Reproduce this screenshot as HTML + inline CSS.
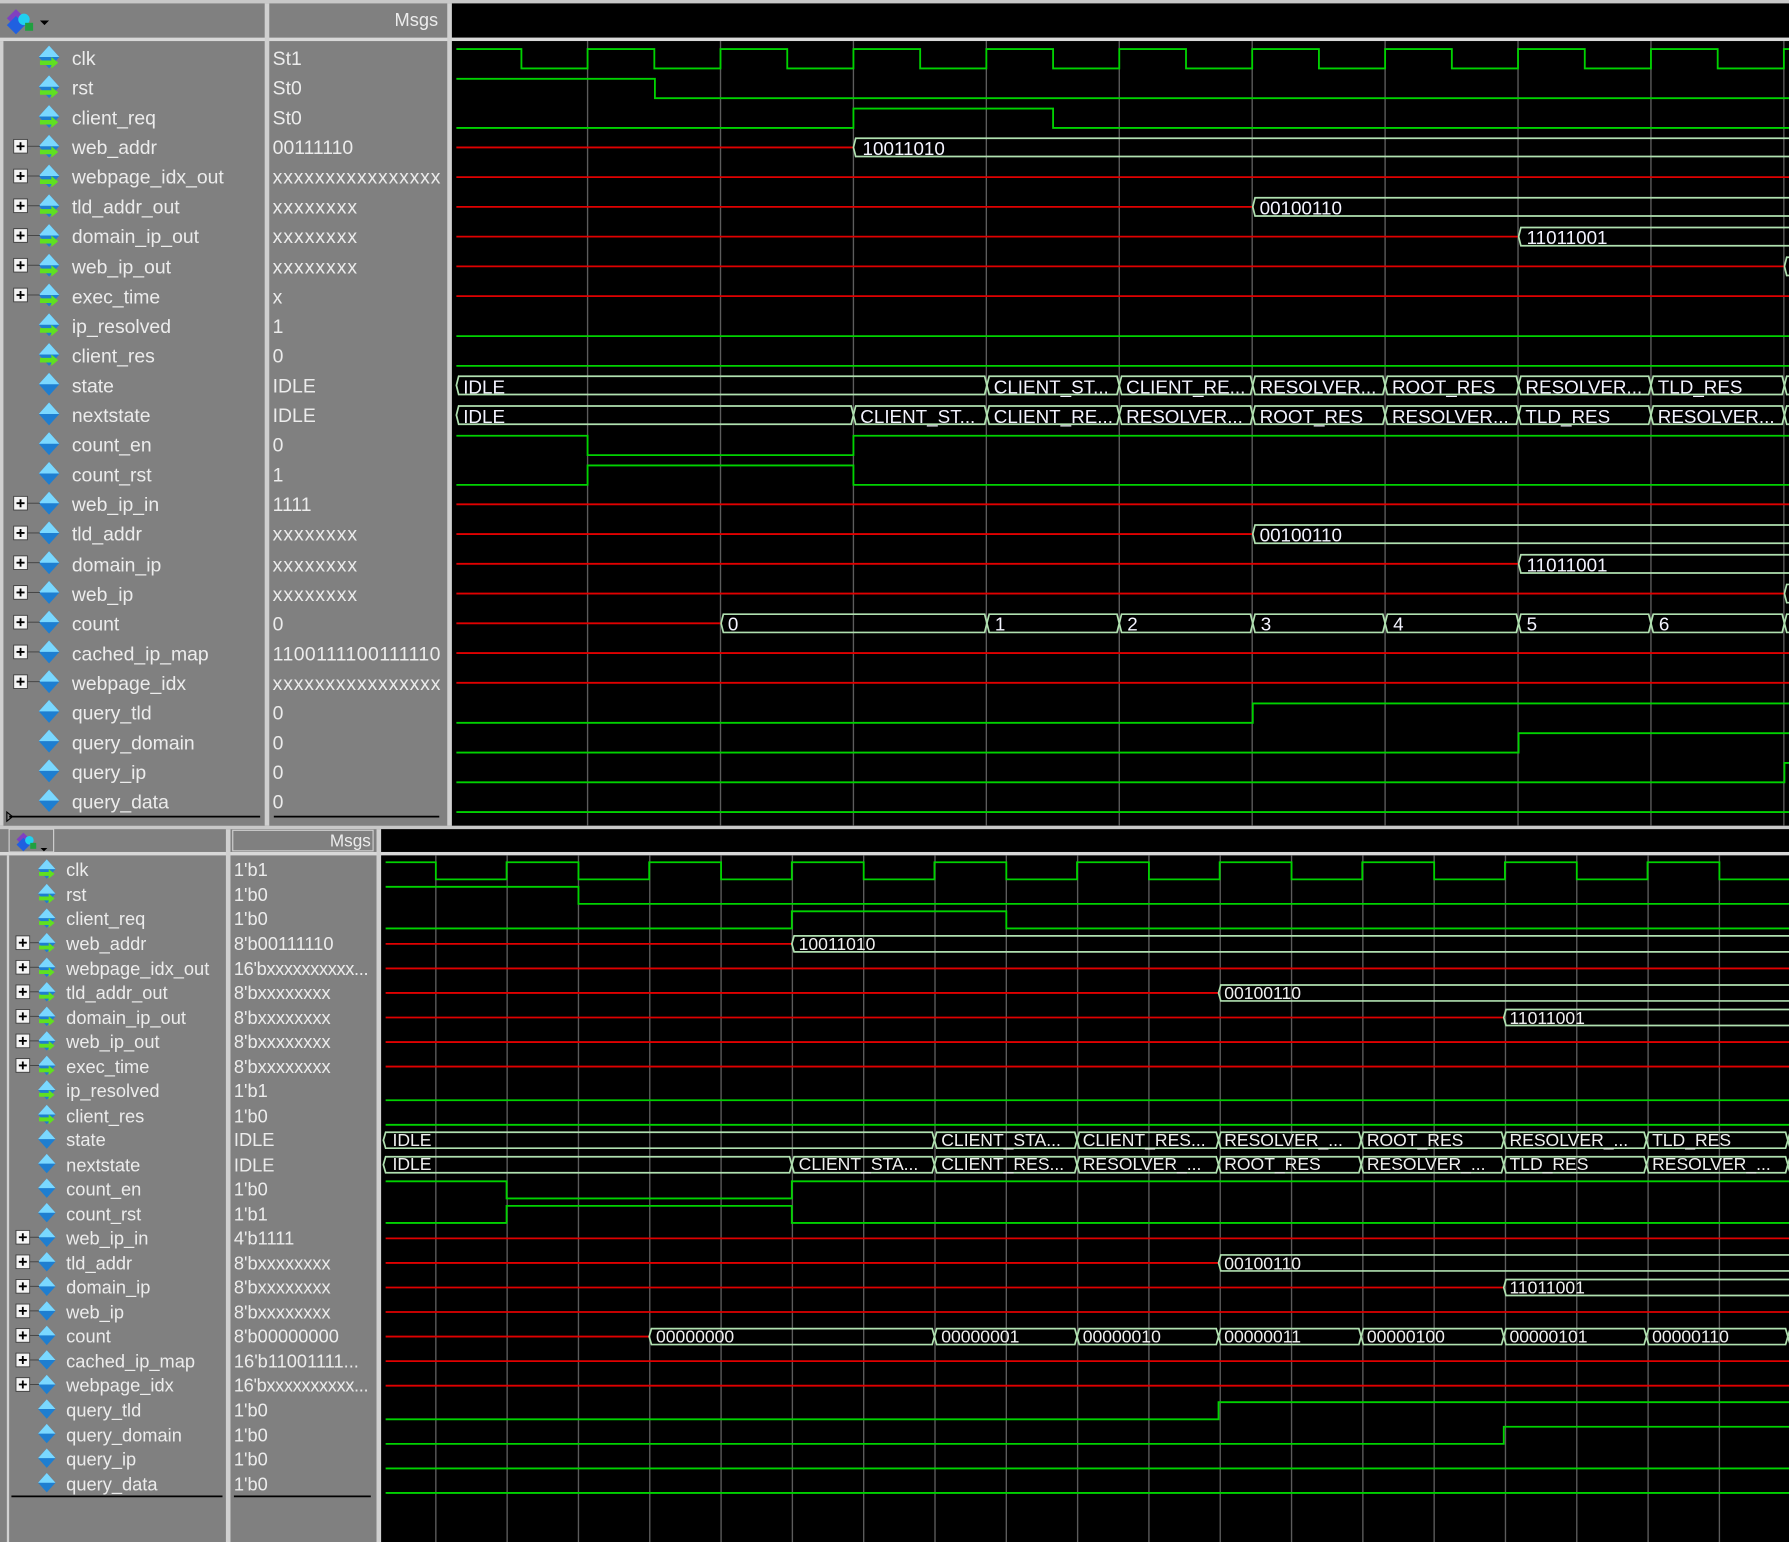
<!DOCTYPE html>
<html><head><meta charset="utf-8"><style>
html,body{margin:0;padding:0;background:#808080;}
svg{display:block}
text{font-family:"Liberation Sans",sans-serif;}
.n{fill:#ececec;font-size:17px}
.v{fill:#ececec;font-size:17px}
.n2{fill:#ececec;font-size:16px}
.v2{fill:#ececec;font-size:16px}
.b{fill:#f4f4ff;font-size:16.5px}
.b2{fill:#f0f0f0;font-size:15.4px}
</style></head><body>
<svg id="s" width="1789" height="1542" viewBox="0 0 1568 1352" preserveAspectRatio="none" xmlns="http://www.w3.org/2000/svg">
<rect x="0" y="0" width="1568" height="1352" fill="#808080"/>
<rect x="0" y="0" width="1568" height="3" fill="#c8c8c8"/>
<!-- top panel -->
<rect x="396" y="3" width="1172" height="30" fill="#000"/>
<rect x="0" y="33" width="1568" height="3" fill="#d8d8d8"/>
<rect x="396" y="36" width="1172" height="688" fill="#000"/>
<rect x="232" y="3" width="4" height="721" fill="#d0d0d0"/>
<rect x="392" y="3" width="4" height="721" fill="#d0d0d0"/>
<rect x="0" y="36" width="3" height="688" fill="#d0d0d0"/>
<text x="384" y="23" text-anchor="end" class="v" style="font-size:16px">Msgs</text>
<g transform="translate(4,8)"><polygon points="10,0 18,8 10,16 2,8" fill="#8040c0"/><polygon points="10,6 18,14 10,22 2,14" fill="#2060e0"/><circle cx="17" cy="9" r="5" fill="#20d0f0"/><rect x="18" y="12" width="7" height="7" fill="#20a040"/><polygon points="31,10 39,10 35,14" fill="#000"/></g>
<line x1="8" y1="716" x2="228" y2="716" stroke="#000" stroke-width="1.5"/>
<line x1="240" y1="716" x2="385" y2="716" stroke="#000" stroke-width="1.5"/>
<polygon points="6,712 11,716 6,720" fill="none" stroke="#000"/>
<!-- bottom panel -->
<rect x="0" y="724" width="1568" height="3" fill="#c8c8c8"/>
<rect x="334" y="727" width="1234" height="20" fill="#000"/>
<rect x="0" y="747" width="1568" height="3" fill="#d8d8d8"/>
<rect x="334" y="750" width="1234" height="602" fill="#000"/>
<rect x="198" y="727" width="4" height="625" fill="#d0d0d0"/>
<rect x="330" y="727" width="4" height="625" fill="#d0d0d0"/>
<rect x="6" y="750" width="2" height="602" fill="#d0d0d0"/>
<rect x="8" y="727" width="39" height="20" fill="none" stroke="#d0d0d0"/>
<rect x="204" y="728" width="123" height="18" fill="none" stroke="#d0d0d0"/>
<text x="325" y="742" text-anchor="end" class="v2" style="font-size:15px">Msgs</text>
<g transform="translate(13,730) scale(0.75)"><polygon points="10,0 18,8 10,16 2,8" fill="#8040c0"/><polygon points="10,6 18,14 10,22 2,14" fill="#2060e0"/><circle cx="17" cy="9" r="5" fill="#20d0f0"/><rect x="18" y="12" width="7" height="7" fill="#20a040"/><polygon points="30,18 38,18 34,22" fill="#000"/></g>
<line x1="10" y1="1312" x2="195" y2="1312" stroke="#000" stroke-width="1.5"/>
<line x1="205" y1="1312" x2="325" y2="1312" stroke="#000" stroke-width="1.5"/>
<g id="waves"></g>
<g id="icons"></g>
<!-- top names -->
<g class="n">
<text x="63" y="57">clk</text><text x="63" y="83">rst</text><text x="63" y="109">client_req</text><text x="63" y="135">web_addr</text><text x="63" y="161">webpage_idx_out</text><text x="63" y="187">tld_addr_out</text><text x="63" y="213">domain_ip_out</text><text x="63" y="240">web_ip_out</text><text x="63" y="266">exec_time</text><text x="63" y="292">ip_resolved</text><text x="63" y="318">client_res</text><text x="63" y="344">state</text><text x="63" y="370">nextstate</text><text x="63" y="396">count_en</text><text x="63" y="422">count_rst</text><text x="63" y="448">web_ip_in</text><text x="63" y="474">tld_addr</text><text x="63" y="501">domain_ip</text><text x="63" y="527">web_ip</text><text x="63" y="553">count</text><text x="63" y="579">cached_ip_map</text><text x="63" y="605">webpage_idx</text><text x="63" y="631">query_tld</text><text x="63" y="657">query_domain</text><text x="63" y="683">query_ip</text><text x="63" y="709">query_data</text>
</g>
<g class="v">
<text x="239" y="57">St1</text><text x="239" y="83">St0</text><text x="239" y="109">St0</text><text x="239" y="135">00111110</text><text x="239" y="161" textLength="147">xxxxxxxxxxxxxxxx</text><text x="239" y="187" textLength="74">xxxxxxxx</text><text x="239" y="213" textLength="74">xxxxxxxx</text><text x="239" y="240" textLength="74">xxxxxxxx</text><text x="239" y="266">x</text><text x="239" y="292">1</text><text x="239" y="318">0</text><text x="239" y="344">IDLE</text><text x="239" y="370">IDLE</text><text x="239" y="396">0</text><text x="239" y="422">1</text><text x="239" y="448">1111</text><text x="239" y="474" textLength="74">xxxxxxxx</text><text x="239" y="501" textLength="74">xxxxxxxx</text><text x="239" y="527" textLength="74">xxxxxxxx</text><text x="239" y="553">0</text><text x="239" y="579" textLength="147">1100111100111110</text><text x="239" y="605" textLength="147">xxxxxxxxxxxxxxxx</text><text x="239" y="631">0</text><text x="239" y="657">0</text><text x="239" y="683">0</text><text x="239" y="709">0</text>
</g>
<!-- bottom names -->
<g class="n2">
<text x="58" y="768">clk</text><text x="58" y="790">rst</text><text x="58" y="811">client_req</text><text x="58" y="833">web_addr</text><text x="58" y="855">webpage_idx_out</text><text x="58" y="876">tld_addr_out</text><text x="58" y="898">domain_ip_out</text><text x="58" y="919">web_ip_out</text><text x="58" y="941">exec_time</text><text x="58" y="962">ip_resolved</text><text x="58" y="984">client_res</text><text x="58" y="1005">state</text><text x="58" y="1027">nextstate</text><text x="58" y="1048">count_en</text><text x="58" y="1070">count_rst</text><text x="58" y="1091">web_ip_in</text><text x="58" y="1113">tld_addr</text><text x="58" y="1134">domain_ip</text><text x="58" y="1156">web_ip</text><text x="58" y="1177">count</text><text x="58" y="1199">cached_ip_map</text><text x="58" y="1220">webpage_idx</text><text x="58" y="1242">query_tld</text><text x="58" y="1264">query_domain</text><text x="58" y="1285">query_ip</text><text x="58" y="1307">query_data</text>
</g>
<g class="v2">
<text x="205" y="768">1'b1</text><text x="205" y="790">1'b0</text><text x="205" y="811">1'b0</text><text x="205" y="833">8'b00111110</text><text x="205" y="855" textLength="118">16'bxxxxxxxxxx...</text><text x="205" y="876">8'bxxxxxxxx</text><text x="205" y="898">8'bxxxxxxxx</text><text x="205" y="919">8'bxxxxxxxx</text><text x="205" y="941">8'bxxxxxxxx</text><text x="205" y="962">1'b1</text><text x="205" y="984">1'b0</text><text x="205" y="1005">IDLE</text><text x="205" y="1027">IDLE</text><text x="205" y="1048">1'b0</text><text x="205" y="1070">1'b1</text><text x="205" y="1091">4'b1111</text><text x="205" y="1113">8'bxxxxxxxx</text><text x="205" y="1134">8'bxxxxxxxx</text><text x="205" y="1156">8'bxxxxxxxx</text><text x="205" y="1177">8'b00000000</text><text x="205" y="1199">16'b11001111...</text><text x="205" y="1220" textLength="118">16'bxxxxxxxxxx...</text><text x="205" y="1242">1'b0</text><text x="205" y="1264">1'b0</text><text x="205" y="1285">1'b0</text><text x="205" y="1307">1'b0</text>
</g>
<!-- top bus labels -->
<g class="b">
<text x="756" y="136">10011010</text>
<text x="1104" y="188">00100110</text>
<text x="1338" y="214">11011001</text>
<text x="406" y="345">IDLE</text><text x="871" y="345">CLIENT_ST...</text><text x="987" y="345">CLIENT_RE...</text><text x="1104" y="345">RESOLVER...</text><text x="1220" y="345">ROOT_RES</text><text x="1337" y="345">RESOLVER...</text><text x="1453" y="345">TLD_RES</text>
<text x="406" y="371">IDLE</text><text x="754" y="371">CLIENT_ST...</text><text x="871" y="371">CLIENT_RE...</text><text x="987" y="371">RESOLVER...</text><text x="1104" y="371">ROOT_RES</text><text x="1220" y="371">RESOLVER...</text><text x="1337" y="371">TLD_RES</text><text x="1453" y="371">RESOLVER...</text>
<text x="1104" y="475">00100110</text>
<text x="1338" y="501">11011001</text>
<text x="638" y="553">0</text><text x="872" y="553">1</text><text x="988" y="553">2</text><text x="1105" y="553">3</text><text x="1221" y="553">4</text><text x="1338" y="553">5</text><text x="1454" y="553">6</text>
</g>
<g class="b2">
<text x="700" y="833">10011010</text>
<text x="1073" y="876">00100110</text>
<text x="1323" y="898">11011001</text>
<text x="344" y="1005">IDLE</text><text x="825" y="1005">CLIENT_STA...</text><text x="949" y="1005">CLIENT_RES...</text><text x="1073" y="1005">RESOLVER_...</text><text x="1198" y="1005">ROOT_RES</text><text x="1323" y="1005">RESOLVER_...</text><text x="1448" y="1005">TLD_RES</text>
<text x="344" y="1026">IDLE</text><text x="700" y="1026">CLIENT_STA...</text><text x="825" y="1026">CLIENT_RES...</text><text x="949" y="1026">RESOLVER_...</text><text x="1073" y="1026">ROOT_RES</text><text x="1198" y="1026">RESOLVER_...</text><text x="1323" y="1026">TLD_RES</text><text x="1448" y="1026">RESOLVER_...</text>
<text x="1073" y="1113">00100110</text>
<text x="1323" y="1134">11011001</text>
<text x="575" y="1177">00000000</text><text x="825" y="1177">00000001</text><text x="949" y="1177">00000010</text><text x="1073" y="1177">00000011</text><text x="1198" y="1177">00000100</text><text x="1323" y="1177">00000101</text><text x="1448" y="1177">00000110</text>
</g>
</svg>
<script>
(function(){
var NS="http://www.w3.org/2000/svg",W=document.getElementById("waves"),I=document.getElementById("icons");
function el(t,a,p){var e=document.createElementNS(NS,t);for(var k in a)e.setAttribute(k,a[k]);(p||W).appendChild(e);return e;}
var G="#00d200",R="#e00000",B="#b0e0b0";
var k;
for(k=0;k<10;k++){var x=515+116.5*k;el("line",{x1:x,y1:36,x2:x,y2:724,stroke:"#5c5c5c","stroke-width":1.2});}
for(k=0;k<20;k++){var x=382+62.5*k;el("line",{x1:x,y1:750,x2:x,y2:1352,stroke:"#5c5c5c","stroke-width":1.2});}
function lvl(c,h,x0,x1,ev,v0){
 var y=function(v){return v?c-h:c+h+1;};var v=v0,d="M"+x0+" "+y(v);
 ev.forEach(function(e){d+=" H"+e[0]+" V"+y(e[1]);v=e[1];});d+=" H"+x1;
 el("path",{d:d,fill:"none",stroke:G,"stroke-width":1.6});}
function red(c,a,b){el("line",{x1:a,y1:c,x2:b,y2:c,stroke:R,"stroke-width":1.6});}
function bus(c,h,a,b){el("path",{d:"M"+a+" "+c+" L"+(a+2)+" "+(c-h)+" H"+(b-2)+" L"+b+" "+c+" L"+(b-2)+" "+(c+h)+" H"+(a+2)+" Z",fill:"none",stroke:B,"stroke-width":1.5});}
function buses(c,h,xs){for(var i=0;i<xs.length-1;i++)bus(c,h,xs[i],xs[i+1]);}
var tc=function(i){return 51+26.08*i;},X0=400,X1=1568,h=8;
var ev=[];for(k=0;k<10;k++){ev.push([515+116.5*k-58,0]);ev.push([515+116.5*k,1]);}
lvl(tc(0),h,X0,X1,ev,1);
lvl(tc(1),h,X0,X1,[[574,0]],1);
lvl(tc(2),h,X0,X1,[[748,1],[923,0]],0);
red(tc(3),X0,748);buses(tc(3),h,[748,1572]);
red(tc(4),X0,X1);
red(tc(5),X0,1098);buses(tc(5),h,[1098,1572]);
red(tc(6),X0,1331);buses(tc(6),h,[1331,1572]);
red(tc(7),X0,1564);buses(tc(7),h,[1564,1600]);
red(tc(8),X0,X1);
lvl(tc(9),h,X0,X1,[],0);
lvl(tc(10),h,X0,X1,[],0);
buses(tc(11),h,[400,865,981,1098,1214,1331,1447,1564,1600]);
buses(tc(12),h,[400,748,865,981,1098,1214,1331,1447,1564,1600]);
lvl(tc(13),h,X0,X1,[[515,0],[748,1]],1);
lvl(tc(14),h,X0,X1,[[515,1],[748,0]],0);
red(tc(15),X0,X1);
red(tc(16),X0,1098);buses(tc(16),h,[1098,1572]);
red(tc(17),X0,1331);buses(tc(17),h,[1331,1572]);
red(tc(18),X0,1564);buses(tc(18),h,[1564,1600]);
red(tc(19),X0,632);buses(tc(19),h,[632,865,981,1098,1214,1331,1447,1564,1600]);
red(tc(20),X0,X1);red(tc(21),X0,X1);
lvl(tc(22),h,X0,X1,[[1098,1]],0);
lvl(tc(23),h,X0,X1,[[1331,1]],0);
lvl(tc(24),h,X0,X1,[[1564,1]],0);
lvl(tc(25),h,X0,X1,[],0);
var bc=function(i){return 763+21.52*i;};X0=338;h=7;
ev=[];for(k=0;k<10;k++){ev.push([382+125*k,0]);ev.push([444+125*k,1]);}
lvl(bc(0),h,X0,X1,ev,1);
lvl(bc(1),h,X0,X1,[[507,0]],1);
lvl(bc(2),h,X0,X1,[[694,1],[882,0]],0);
red(bc(3),X0,694);buses(bc(3),h,[694,1572]);
red(bc(4),X0,X1);
red(bc(5),X0,1068);buses(bc(5),h,[1068,1572]);
red(bc(6),X0,1318);buses(bc(6),h,[1318,1572]);
red(bc(7),X0,X1);red(bc(8),X0,X1);
lvl(bc(9),h,X0,X1,[],0);lvl(bc(10),h,X0,X1,[],0);
buses(bc(11),h,[336,819,944,1068,1193,1318,1443,1567,1600]);
buses(bc(12),h,[336,694,819,944,1068,1193,1318,1443,1567,1600]);
lvl(bc(13),h,X0,X1,[[444,0],[694,1]],1);
lvl(bc(14),h,X0,X1,[[444,1],[694,0]],0);
red(bc(15),X0,X1);
red(bc(16),X0,1068);buses(bc(16),h,[1068,1572]);
red(bc(17),X0,1318);buses(bc(17),h,[1318,1572]);
red(bc(18),X0,X1);
red(bc(19),X0,569);buses(bc(19),h,[569,819,944,1068,1193,1318,1443,1567,1600]);
red(bc(20),X0,X1);red(bc(21),X0,X1);
lvl(bc(22),h,X0,X1,[[1068,1]],0);
lvl(bc(23),h,X0,X1,[[1318,1]],0);
lvl(bc(24),h,X0,X1,[],0);lvl(bc(25),h,X0,X1,[],0);
function icon(cx,cy,s,arrow,plus,px){
 el("polygon",{points:[cx,cy-10*s,cx+9*s,cy,cx,cy+10*s,cx-9*s,cy].join(","),fill:"#1e7ed0"},I);
 el("polygon",{points:[cx,cy-10*s,cx+9*s,cy,cx,cy,cx-9*s,cy].join(","),fill:"#7ad8ff"},I);
 if(arrow)el("polygon",{points:[cx-8*s,cy+3*s,cx+2*s,cy+3*s,cx+2*s,cy,cx+8*s,cy+5*s,cx+2*s,cy+10*s,cx+2*s,cy+7*s,cx-8*s,cy+7*s].join(","),fill:"#60e020"},I);
 if(plus){el("rect",{x:px-6,y:cy-6,width:12,height:12,fill:"#f4f4f4",stroke:"#404040","stroke-width":0.8},I);
  el("path",{d:"M"+(px-3.5)+" "+cy+" H"+(px+3.5)+" M"+px+" "+(cy-3.5)+" V"+(cy+3.5),stroke:"#000","stroke-width":1.6},I);
  el("line",{x1:px+6,y1:cy,x2:cx-8*s,y2:cy,stroke:"#404040","stroke-width":0.8},I);}
}
for(var i=0;i<26;i++){var ar=i<=10,pl=(i>=3&&i<=8)||(i>=15&&i<=21);
 icon(43,tc(i)-1,1,ar,pl,18);icon(41,bc(i)-1,0.85,ar,pl,20);}
})();
</script>
</body></html>
